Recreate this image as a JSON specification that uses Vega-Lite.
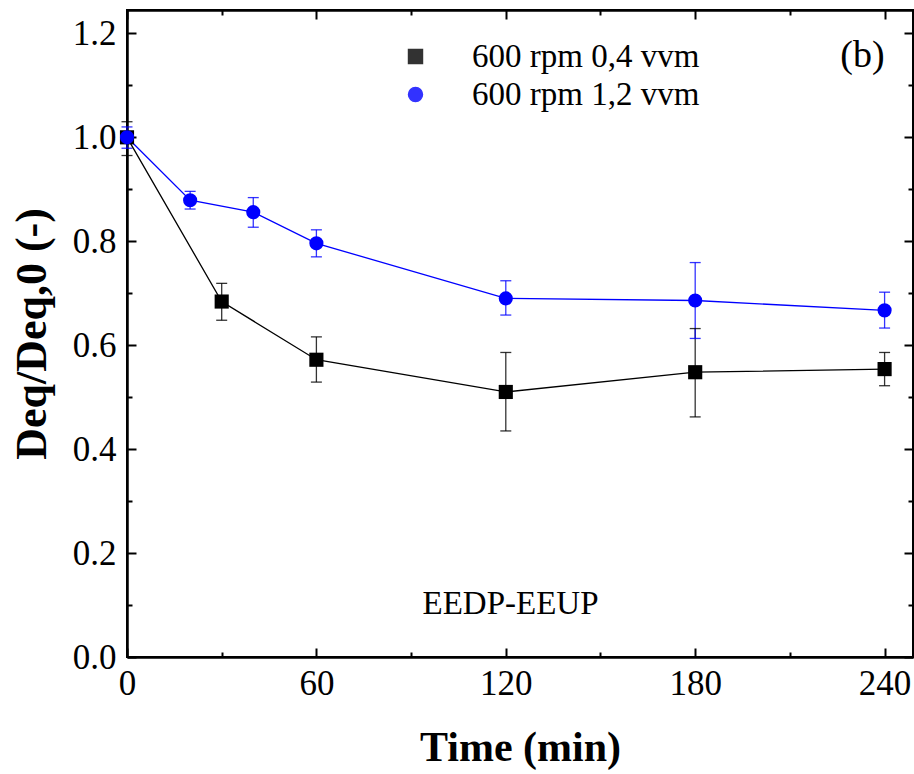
{
  "$schema": "https://vega.github.io/schema/vega-lite/v6.json",
  "width": 786,
  "height": 647,
  "autosize": {"type": "none"},
  "padding": {"left": 127, "top": 10, "right": 1, "bottom": 117},
  "background": "white",
  "config": {
    "font": "Liberation Serif",
    "view": {"stroke": "black", "strokeWidth": 2},
    "axis": {"domainColor": "black", "tickColor": "black", "labelColor": "black", "titleColor": "black", "grid": false, "domainWidth": 2.5, "tickWidth": 2, "labelFont": "Liberation Serif", "titleFont": "Liberation Serif"}
  },
  "data": {
    "values": [
      {"series": "600 rpm 0,4 vvm", "t": 0, "d": 1.0, "lo": 0.965, "hi": 1.03},
      {"series": "600 rpm 0,4 vvm", "t": 30, "d": 0.684, "lo": 0.648, "hi": 0.719},
      {"series": "600 rpm 0,4 vvm", "t": 60, "d": 0.572, "lo": 0.529, "hi": 0.616},
      {"series": "600 rpm 0,4 vvm", "t": 120, "d": 0.510, "lo": 0.435, "hi": 0.586},
      {"series": "600 rpm 0,4 vvm", "t": 180, "d": 0.548, "lo": 0.462, "hi": 0.632},
      {"series": "600 rpm 0,4 vvm", "t": 240, "d": 0.554, "lo": 0.522, "hi": 0.586},
      {"series": "600 rpm 1,2 vvm", "t": 0, "d": 1.0, "lo": 0.979, "hi": 1.02},
      {"series": "600 rpm 1,2 vvm", "t": 20, "d": 0.879, "lo": 0.862, "hi": 0.896},
      {"series": "600 rpm 1,2 vvm", "t": 40, "d": 0.856, "lo": 0.827, "hi": 0.884},
      {"series": "600 rpm 1,2 vvm", "t": 60, "d": 0.796, "lo": 0.770, "hi": 0.822},
      {"series": "600 rpm 1,2 vvm", "t": 120, "d": 0.690, "lo": 0.658, "hi": 0.724},
      {"series": "600 rpm 1,2 vvm", "t": 180, "d": 0.686, "lo": 0.613, "hi": 0.759},
      {"series": "600 rpm 1,2 vvm", "t": 240, "d": 0.667, "lo": 0.633, "hi": 0.702}
    ]
  },
  "resolve": {"axis": {"x": "independent", "y": "independent"}},
  "layer": [
    {
      "mark": {"type": "rule", "strokeWidth": 1.3, "opacity": 0.8},
      "encoding": {
        "x": {"field": "t", "type": "quantitative", "scale": {"domain": [0, 249], "nice": false, "zero": false},
          "axis": {"orient": "bottom", "values": [0, 60, 120, 180, 240], "tickSize": -9, "labelFontSize": 35, "labelPadding": 18, "title": "Time (min)", "titleFontSize": 42, "titleFontWeight": "bold", "titlePadding": 26, "labelFlush": false}},
        "y": {"field": "lo", "type": "quantitative", "scale": {"domain": [0, 1.245], "nice": false, "zero": false},
          "axis": {"orient": "left", "values": [0, 0.2, 0.4, 0.6, 0.8, 1.0, 1.2], "format": ".1f", "tickSize": -9, "labelFontSize": 35, "labelPadding": 20, "title": "Deq/Deq,0 (-)", "titleFontSize": 44, "titleFontWeight": "bold", "titlePadding": 18}},
        "y2": {"field": "hi"},
        "color": {"field": "series", "type": "nominal", "scale": {"domain": ["600 rpm 0,4 vvm", "600 rpm 1,2 vvm"], "range": ["#000000", "#0000ff"]},
          "legend": {"orient": "none", "legendX": 244, "legendY": 30, "title": null, "padding": 0, "symbolSize": 200, "symbolOffset": 28, "labelOffset": 40, "rowPadding": 4, "symbolOpacity": 1, "labelFont": "Liberation Serif", "labelFontSize": 33, "labelColor": "black", "labelLimit": 400, "symbolStrokeWidth": 1.3}}
      }
    },
    {
      "mark": {"type": "tick", "orient": "horizontal", "size": 11, "thickness": 1.3, "opacity": 0.8},
      "encoding": {
        "x": {"field": "t", "type": "quantitative", "scale": {"domain": [0, 249], "nice": false, "zero": false}, "axis": null},
        "y": {"field": "hi", "type": "quantitative", "scale": {"domain": [0, 1.245], "nice": false, "zero": false}, "axis": null},
        "color": {"field": "series", "type": "nominal", "scale": {"domain": ["600 rpm 0,4 vvm", "600 rpm 1,2 vvm"], "range": ["#000000", "#0000ff"]}}
      }
    },
    {
      "mark": {"type": "tick", "orient": "horizontal", "size": 11, "thickness": 1.3, "opacity": 0.8},
      "encoding": {
        "x": {"field": "t", "type": "quantitative", "scale": {"domain": [0, 249], "nice": false, "zero": false}, "axis": null},
        "y": {"field": "lo", "type": "quantitative", "scale": {"domain": [0, 1.245], "nice": false, "zero": false}, "axis": null},
        "color": {"field": "series", "type": "nominal", "scale": {"domain": ["600 rpm 0,4 vvm", "600 rpm 1,2 vvm"], "range": ["#000000", "#0000ff"]}}
      }
    },
    {
      "mark": {"type": "line", "strokeWidth": 1.3},
      "encoding": {
        "x": {"field": "t", "type": "quantitative", "scale": {"domain": [0, 249], "nice": false, "zero": false}, "axis": null},
        "y": {"field": "d", "type": "quantitative", "scale": {"domain": [0, 1.245], "nice": false, "zero": false}, "axis": null},
        "stroke": {"field": "series", "type": "nominal", "scale": {"domain": ["600 rpm 0,4 vvm", "600 rpm 1,2 vvm"], "range": ["#000000", "#0000ff"]}},
        "order": {"field": "t", "type": "quantitative"}
      }
    },
    {
      "mark": {"type": "point", "filled": true, "opacity": 1, "size": 200},
      "encoding": {
        "x": {"field": "t", "type": "quantitative", "scale": {"domain": [0, 249], "nice": false, "zero": false}, "axis": null},
        "y": {"field": "d", "type": "quantitative", "scale": {"domain": [0, 1.245], "nice": false, "zero": false}, "axis": null},
        "shape": {"field": "series", "type": "nominal", "scale": {"domain": ["600 rpm 0,4 vvm", "600 rpm 1,2 vvm"], "range": ["square", "circle"]}},
        "fill": {"field": "series", "type": "nominal", "scale": {"domain": ["600 rpm 0,4 vvm", "600 rpm 1,2 vvm"], "range": ["#000000", "#0000ff"]}}
      }
    },
    {
      "data": {"values": [{"label": "(b)"}]},
      "mark": {"type": "text", "font": "Liberation Serif", "fontSize": 38, "fontWeight": "normal", "color": "black"},
      "encoding": {
        "x": {"datum": 233, "type": "quantitative", "scale": {"domain": [0, 249], "nice": false, "zero": false}, "axis": null},
        "y": {"datum": 1.156, "type": "quantitative", "scale": {"domain": [0, 1.245], "nice": false, "zero": false}, "axis": null},
        "text": {"field": "label"}
      }
    },
    {
      "data": {"values": [{"label": "EEDP-EEUP"}]},
      "mark": {"type": "text", "font": "Liberation Serif", "fontSize": 33, "fontWeight": "normal", "color": "black"},
      "encoding": {
        "x": {"datum": 121.5, "type": "quantitative", "scale": {"domain": [0, 249], "nice": false, "zero": false}, "axis": null},
        "y": {"datum": 0.102, "type": "quantitative", "scale": {"domain": [0, 1.245], "nice": false, "zero": false}, "axis": null},
        "text": {"field": "label"}
      }
    },
    {
      "mark": {"type": "point", "opacity": 0},
      "encoding": {
        "x": {"field": "t", "type": "quantitative", "scale": {"domain": [0, 249], "nice": false, "zero": false},
          "axis": {"orient": "bottom", "values": [30, 90, 150, 210], "tickSize": -5, "labels": false, "domain": false, "title": null}},
        "y": {"field": "d", "type": "quantitative", "scale": {"domain": [0, 1.245], "nice": false, "zero": false},
          "axis": {"orient": "left", "values": [0.1, 0.3, 0.5, 0.7, 0.9, 1.1], "tickSize": -5, "labels": false, "domain": false, "title": null}}
      }
    },
    {
      "mark": {"type": "point", "opacity": 0},
      "encoding": {
        "x": {"field": "t", "type": "quantitative", "scale": {"domain": [0, 249], "nice": false, "zero": false},
          "axis": {"orient": "top", "values": [0, 60, 120, 180, 240], "tickSize": -9, "labels": false, "title": null}},
        "y": {"field": "d", "type": "quantitative", "scale": {"domain": [0, 1.245], "nice": false, "zero": false},
          "axis": {"orient": "right", "values": [0, 0.2, 0.4, 0.6, 0.8, 1.0, 1.2], "tickSize": -9, "labels": false, "title": null}}
      }
    },
    {
      "mark": {"type": "point", "opacity": 0},
      "encoding": {
        "x": {"field": "t", "type": "quantitative", "scale": {"domain": [0, 249], "nice": false, "zero": false},
          "axis": {"orient": "top", "values": [30, 90, 150, 210], "tickSize": -5, "labels": false, "domain": false, "title": null}},
        "y": {"field": "d", "type": "quantitative", "scale": {"domain": [0, 1.245], "nice": false, "zero": false},
          "axis": {"orient": "right", "values": [0.1, 0.3, 0.5, 0.7, 0.9, 1.1], "tickSize": -5, "labels": false, "domain": false, "title": null}}
      }
    }
  ]
}
